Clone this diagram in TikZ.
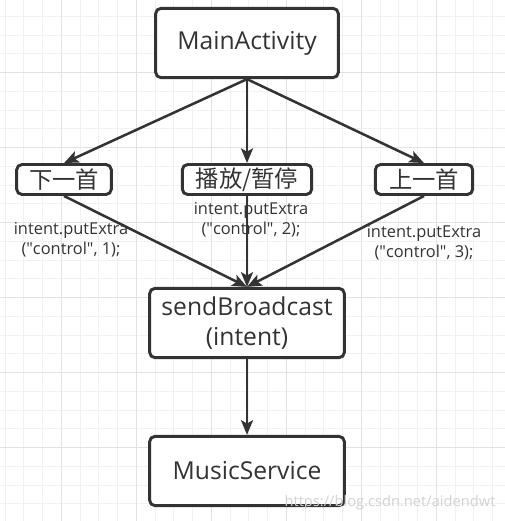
\documentclass[tikz,border=0pt]{standalone}
\usepackage{fontspec}
\setmainfont{Open Sans}
\newfontfamily\cjk{Noto Sans CJK SC}
\definecolor{inkgray}{HTML}{333333}
\definecolor{gridminor}{HTML}{F1F1F1}
\definecolor{gridmajor}{HTML}{E2E2E2}
\usetikzlibrary{arrows.meta,positioning}

\begin{document}
\begin{tikzpicture}[x=0.75pt, y=-0.75pt,
    box/.style={draw=inkgray, line width=2.2pt, rounded corners=4pt, fill=white,
      inner sep=0pt, align=center, text=inkgray, font=\fontsize{18.5}{22.5}\selectfont},
    bigbox/.style={box, minimum width=146pt, minimum height=52pt},
    smallbox/.style={box, minimum height=22.5pt, font=\cjk\fontsize{17.5}{20}\selectfont},
    flow/.style={-{Stealth[length=11pt, width=9pt, inset=2.5pt]}, draw=inkgray, line width=1.9pt},
    hint/.style={align=center, text=inkgray, inner sep=0pt, font=\fontsize{12.3}{14.8}\selectfont}]
  \useasboundingbox (0,0) rectangle (505,521);
  \fill[white] (0,0) rectangle (505,521);

  % Grid
  \foreach \gx in {5,23.75,...,505} \draw[gridminor, line width=0.75pt] (\gx,0) -- (\gx,521);
  \foreach \gy in {16.45,35.2,...,521} \draw[gridminor, line width=0.75pt] (0,\gy) -- (505,\gy);
  \foreach \gx in {61.7,136.7,...,505} \draw[gridmajor, line width=0.75pt] (\gx,0) -- (\gx,521);
  \foreach \gy in {72.7,147.7,...,521} \draw[gridmajor, line width=0.75pt] (0,\gy) -- (505,\gy);

  % Boxes
  \node[bigbox, minimum width=137pt] (main) at (247,43) {MainActivity};
  \node[smallbox, minimum width=71pt] (next) at (64,179.5) {下一首};
  \node[smallbox, minimum width=97pt] (play) at (247,179.5) {播放/暂停};
  \node[smallbox, minimum width=73pt] (prev) at (424,179.5) {上一首};
  \node[bigbox] (send) at (247,323) {sendBroadcast\\(intent)};
  \node[bigbox] (music) at (247,471) {MusicService};

  % Extras
  \node[hint] (extra1) at (71,240) {intent.putExtra\\(\textquotedbl control\textquotedbl, 1);};
  \node[hint] (extra2) at (251,220) {intent.putExtra\\(\textquotedbl control\textquotedbl, 2);};
  \node[hint] (extra3) at (424,243) {intent.putExtra\\(\textquotedbl control\textquotedbl, 3);};

  % Arrows
  \draw[flow] (main.south) -- (next.north);
  \draw[flow] (main.south) -- (play.north);
  \draw[flow] (main.south) -- (prev.north);
  \draw[flow] (next.south) -- (send.north);
  \draw[flow] (play.south) -- (send.north);
  \draw[flow] (prev.south) -- (send.north);
  \draw[flow] (send.south) -- (music.north);

  % Watermark
  \node[text=gray!35, font=\fontsize{11}{13}\selectfont] (mark) at (390,503) {https://blog.csdn.net/aidendwt};
\end{tikzpicture}
\end{document}
